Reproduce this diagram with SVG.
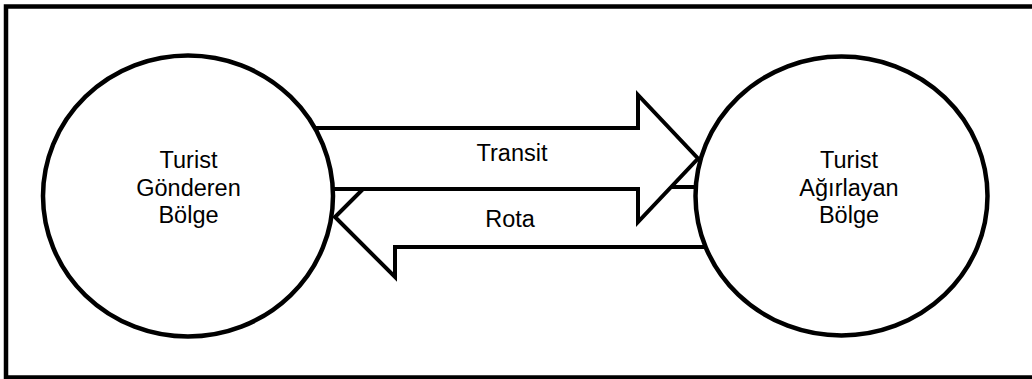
<svg xmlns="http://www.w3.org/2000/svg" width="1032" height="379" viewBox="0 0 1032 379">
<style>
.frame{fill:#fff;stroke:#000;stroke-width:4.5}
.arrow{fill:#fff;stroke:#000;stroke-width:4;stroke-linejoin:miter}
.node{fill:#fff;stroke:#000;stroke-width:4.5}
.t{font-family:"Liberation Sans",Arial,sans-serif;font-size:23.5px;fill:#000;text-anchor:middle}
</style>
<rect class="frame" x="6" y="6.5" width="1032" height="371"/>
<g id="connectors">
<path id="rota" class="arrow" d="M760,187 L395,187 L395,157 L335,217 L395,277 L395,247 L760,247 Z"/>
<path id="transit" class="arrow" d="M260,128 L638,128 L638,95 L698,158.5 L638,222 L638,189 L260,189 Z"/>
<text class="t" x="512" y="161">Transit</text>
<text class="t" x="510" y="227">Rota</text>
</g>
<g id="node-gonderen">
<ellipse class="node" cx="188" cy="196" rx="145" ry="140.5"/>
<text class="t" x="188.5" y="168">Turist</text>
<text class="t" x="188.5" y="195.5">Gönderen</text>
<text class="t" x="188.5" y="223">Bölge</text>
</g>
<g id="node-agirlayan">
<ellipse class="node" cx="841.5" cy="196" rx="146" ry="139.5"/>
<text class="t" x="849" y="168">Turist</text>
<text class="t" x="849" y="195.5">Ağırlayan</text>
<text class="t" x="849" y="223">Bölge</text>
</g>
</svg>
